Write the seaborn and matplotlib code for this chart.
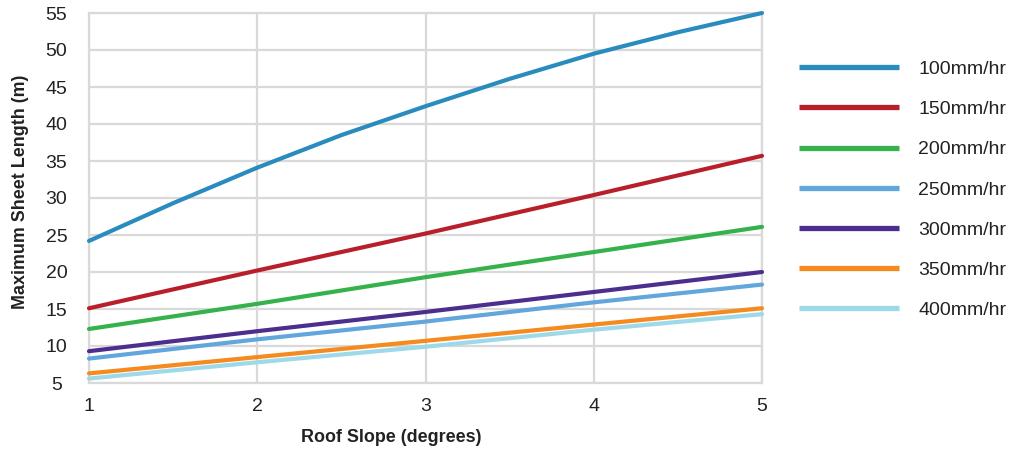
import numpy as np
import pandas as pd
import matplotlib
matplotlib.use('Agg')
import matplotlib.pyplot as plt
import seaborn as sns

# roof slope in degrees
slope = [1, 2, 3, 4, 5]
slope_fine = [1, 1.5, 2, 2.5, 3, 3.5, 4, 4.5, 5]

# maximum sheet length (m) per rainfall intensity
len_100 = [24.2, 29.3, 34.1, 38.5, 42.4, 46.1, 49.5, 52.4, 55.0]
len_150 = [15.1, 20.2, 25.2, 30.4, 35.7]
len_200 = [12.3, 15.7, 19.3, 22.7, 26.1]
len_250 = [8.3, 10.9, 13.3, 15.9, 18.3]
len_300 = [9.3, 12.0, 14.6, 17.3, 20.0]
len_350 = [6.3, 8.5, 10.7, 12.9, 15.1]
len_400 = [5.6, 7.8, 9.9, 12.2, 14.3]

labels = ['100mm/hr', '150mm/hr', '200mm/hr', '250mm/hr',
          '300mm/hr', '350mm/hr', '400mm/hr']
colors = ['#2a8bbf', '#b81f2a', '#35b24b', '#62a7db',
          '#4b2e8d', '#f58a1f', '#9ed9ea']


def build_frame():
    series = [(slope_fine, len_100), (slope, len_150), (slope, len_200),
              (slope, len_250), (slope, len_300), (slope, len_350),
              (slope, len_400)]
    rows = []
    for label, (xs, ys) in zip(labels, series):
        for x, y in zip(xs, ys):
            rows.append({'slope': x, 'length': y, 'rain': label})
    return pd.DataFrame(rows)


def main():
    sns.set_style('white')
    plt.rcParams['font.family'] = ['Liberation Sans', 'DejaVu Sans']

    df = build_frame()

    fig = plt.figure(figsize=(10.13, 4.55), dpi=100)
    ax = fig.add_axes([89 / 1013, 72 / 455, 673 / 1013, 370 / 455])

    sns.lineplot(data=df, x='slope', y='length', hue='rain',
                 hue_order=labels, palette=colors, linewidth=3,
                 ax=ax, legend=False, clip_on=False, zorder=3)

    ax.set_xlim(1, 5)
    ax.set_ylim(5, 55)
    ax.set_xticks(slope)
    ax.set_yticks(np.arange(5, 56, 5))
    ax.grid(True, color='#d9d9d9', linewidth=1.6)
    for s in ax.spines.values():
        s.set_color('#d9d9d9')
        s.set_linewidth(1.6)
    ax.tick_params(axis='both', length=0, labelsize=14, colors='#222222')
    ax.tick_params(axis='x', pad=11)
    ax.tick_params(axis='y', pad=23.4)
    for t in ax.get_yticklabels():
        t.set_horizontalalignment('center')

    ax.set_xlabel('Roof Slope (degrees)', fontsize=12.9, fontweight='bold',
                  color='#222222')
    ax.set_ylabel('Maximum Sheet Length (m)', fontsize=12.9,
                  fontweight='bold', color='#222222')
    ax.xaxis.set_label_coords(0.449, -0.124)
    ax.yaxis.set_label_coords(-0.0891, 0.516)

    handles = [plt.Line2D([], [], color=c, linewidth=3.8,
                          solid_capstyle='butt') for c in colors]
    fig.legend(handles, labels, loc='upper left',
               bbox_to_anchor=(781.5 / 1013, 1 - 43 / 455), frameon=False,
               fontsize=14, handlelength=5.14, handletextpad=0.98,
               labelspacing=1.16, labelcolor='#222222')

    fig.savefig('out.png', dpi=100)


if __name__ == '__main__':
    main()
